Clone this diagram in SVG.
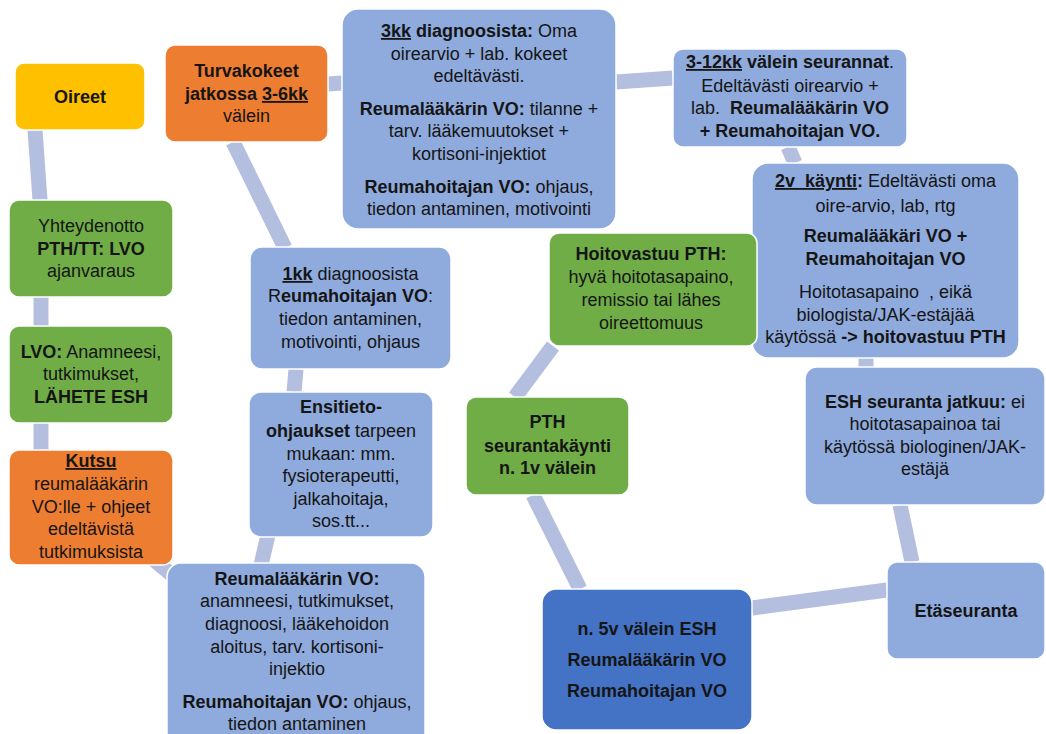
<svg xmlns="http://www.w3.org/2000/svg" width="1046" height="734" viewBox="0 0 1046 734">
<style>
.c{stroke:#B4BFE0;stroke-width:15;fill:none;stroke-linecap:butt}
.b{stroke:#fff;stroke-width:1.5}
.blue{fill:#8FAADC}.green{fill:#70AD47}.orange{fill:#ED7D31}.gold{fill:#FFC000}.dblue{fill:#4472C4}
text{font-family:"Liberation Sans",Arial,sans-serif;font-size:18px;fill:#151515;text-anchor:middle}
.bo{font-weight:bold}
.u{text-decoration:underline}
</style>
<rect width="1046" height="734" fill="#fff"/>
<g id="connectors">
<line class="c" x1="35" y1="130" x2="40" y2="200"/>
<line class="c" x1="41" y1="297" x2="41" y2="326"/>
<line class="c" x1="41" y1="423" x2="41" y2="450"/>
<line class="c" x1="140" y1="548" x2="190" y2="590"/>
<line class="c" x1="268" y1="535" x2="261" y2="565"/>
<line class="c" x1="296" y1="369" x2="294" y2="392"/>
<line class="c" x1="233" y1="142" x2="285" y2="248"/>
<line class="c" x1="328" y1="84" x2="342" y2="83"/>
<line class="c" x1="616" y1="82" x2="673" y2="78"/>
<line class="c" x1="788" y1="147" x2="795" y2="163"/>
<line class="c" x1="866" y1="358" x2="866" y2="367"/>
<line class="c" x1="900" y1="505" x2="912" y2="562"/>
<line class="c" x1="752" y1="608" x2="887" y2="590"/>
<line class="c" x1="580" y1="589" x2="533" y2="495"/>
<line class="c" x1="515" y1="397" x2="553" y2="346"/>
</g>
<g id="oireet">
<rect class="b gold" x="15" y="63" width="130" height="67" rx="9"/>
<text x="80" y="103" class="bo">Oireet</text>
</g>
<g id="turvakokeet">
<rect class="b orange" x="165" y="45" width="163" height="97" rx="10"/>
<text x="246.5" y="77" class="bo">Turvakokeet</text>
<text x="246.5" y="100" class="bo">jatkossa <tspan class="u">3-6kk</tspan></text>
<text x="246.5" y="122">välein</text>
</g>
<g id="yhteydenotto">
<rect class="b green" x="9" y="200" width="164" height="97" rx="10"/>
<text x="91" y="232">Yhteydenotto</text>
<text x="91" y="255" class="bo">PTH/TT: LVO</text>
<text x="91" y="277">ajanvaraus</text>
</g>
<g id="lvo">
<rect class="b green" x="9" y="326" width="164" height="97" rx="10"/>
<text x="91" y="358"><tspan class="bo">LVO:</tspan> Anamneesi,</text>
<text x="91" y="380">tutkimukset,</text>
<text x="91" y="403" class="bo">LÄHETE ESH</text>
</g>
<g id="kutsu">
<rect class="b orange" x="9" y="450" width="164" height="115" rx="10"/>
<text x="91" y="467" class="bo u">Kutsu</text>
<text x="91" y="490">reumalääkärin</text>
<text x="91" y="513">VO:lle + ohjeet</text>
<text x="91" y="535">edeltävistä</text>
<text x="91" y="558">tutkimuksista</text>
</g>
<g id="reumalaakarin-vo">
<rect class="b blue" x="167" y="563" width="258" height="185" rx="14"/>
<text x="297" y="585" class="bo">Reumalääkärin VO:</text>
<text x="297" y="607">anamneesi, tutkimukset,</text>
<text x="297" y="630">diagnoosi, lääkehoidon</text>
<text x="297" y="653">aloitus, tarv. kortisoni-</text>
<text x="297" y="675">injektio</text>
<text x="297" y="708"><tspan class="bo">Reumahoitajan VO:</tspan> ohjaus,</text>
<text x="297" y="730">tiedon antaminen</text>
</g>
<g id="ensitieto">
<rect class="b blue" x="249" y="392" width="184" height="145" rx="12"/>
<text x="341" y="413" class="bo">Ensitieto-</text>
<text x="341" y="437"><tspan class="bo">ohjaukset</tspan> tarpeen</text>
<text x="341" y="460">mukaan: mm.</text>
<text x="341" y="482">fysioterapeutti,</text>
<text x="341" y="505">jalkahoitaja,</text>
<text x="341" y="527">sos.tt...</text>
</g>
<g id="kk1">
<rect class="b blue" x="250" y="247" width="201" height="122" rx="12"/>
<text x="350.5" y="280"><tspan class="bo u">1kk</tspan> diagnoosista</text>
<text x="350.5" y="302">R<tspan class="bo">eumahoitajan VO</tspan>:</text>
<text x="350.5" y="325">tiedon antaminen,</text>
<text x="350.5" y="348">motivointi, ohjaus</text>
</g>
<g id="kk3">
<rect class="b blue" x="342" y="9" width="274" height="220" rx="16"/>
<text x="479" y="37"><tspan class="bo u">3kk</tspan><tspan class="bo"> diagnoosista:</tspan> Oma</text>
<text x="479" y="60">oirearvio + lab. kokeet</text>
<text x="479" y="82">edeltävästi.</text>
<text x="479" y="115"><tspan class="bo">Reumalääkärin VO:</tspan> tilanne +</text>
<text x="479" y="137">tarv. lääkemuutokset +</text>
<text x="479" y="160">kortisoni-injektiot</text>
<text x="479" y="193"><tspan class="bo">Reumahoitajan VO:</tspan> ohjaus,</text>
<text x="479" y="215">tiedon antaminen, motivointi</text>
</g>
<g id="kk3-12">
<rect class="b blue" x="673" y="49" width="234" height="98" rx="10"/>
<text x="790" y="68"><tspan class="bo u">3-12kk</tspan><tspan class="bo"> välein seurannat</tspan>.</text>
<text x="790" y="92">Edeltävästi oirearvio +</text>
<text x="790" y="114" xml:space="preserve">lab.  <tspan class="bo">Reumalääkärin VO</tspan></text>
<text x="790" y="137" class="bo">+ Reumahoitajan VO.</text>
</g>
<g id="v2">
<rect class="b blue" x="752" y="163" width="267" height="195" rx="16"/>
<text x="885.5" y="187" xml:space="preserve"><tspan class="bo u">2v  käynti</tspan><tspan class="bo">:</tspan> Edeltävästi oma</text>
<text x="885.5" y="212">oire-arvio, lab, rtg</text>
<text x="885.5" y="242" class="bo">Reumalääkäri VO +</text>
<text x="885.5" y="265" class="bo">Reumahoitajan VO</text>
<text x="885.5" y="298" xml:space="preserve">Hoitotasapaino  , eikä</text>
<text x="885.5" y="321">biologista/JAK-estäjää</text>
<text x="885.5" y="343">käytössä <tspan class="bo">-&gt; hoitovastuu PTH</tspan></text>
</g>
<g id="hoitovastuu">
<rect class="b green" x="549" y="233" width="208" height="113" rx="10"/>
<text x="651" y="260" class="bo">Hoitovastuu PTH:</text>
<text x="651" y="283">hyvä hoitotasapaino,</text>
<text x="651" y="306">remissio tai lähes</text>
<text x="651" y="329">oireettomuus</text>
</g>
<g id="esh-seuranta">
<rect class="b blue" x="805" y="367" width="240" height="138" rx="12"/>
<text x="925" y="408"><tspan class="bo">ESH seuranta jatkuu:</tspan> ei</text>
<text x="925" y="430">hoitotasapainoa tai</text>
<text x="925" y="453">käytössä biologinen/JAK-</text>
<text x="925" y="475">estäjä</text>
</g>
<g id="etaseuranta">
<rect class="b blue" x="887" y="562" width="158" height="97" rx="10"/>
<text x="966" y="617" class="bo">Etäseuranta</text>
</g>
<g id="pth-seuranta">
<rect class="b green" x="466" y="397" width="163" height="98" rx="10"/>
<text x="547.5" y="428" class="bo">PTH</text>
<text x="547.5" y="452" class="bo">seurantakäynti</text>
<text x="547.5" y="474" class="bo">n. 1v välein</text>
</g>
<g id="esh-5v">
<rect class="b dblue" x="542" y="589" width="210" height="141" rx="14"/>
<text x="647" y="635" class="bo">n. 5v välein ESH</text>
<text x="647" y="666" class="bo">Reumalääkärin VO</text>
<text x="647" y="697" class="bo">Reumahoitajan VO</text>
</g>
</svg>
